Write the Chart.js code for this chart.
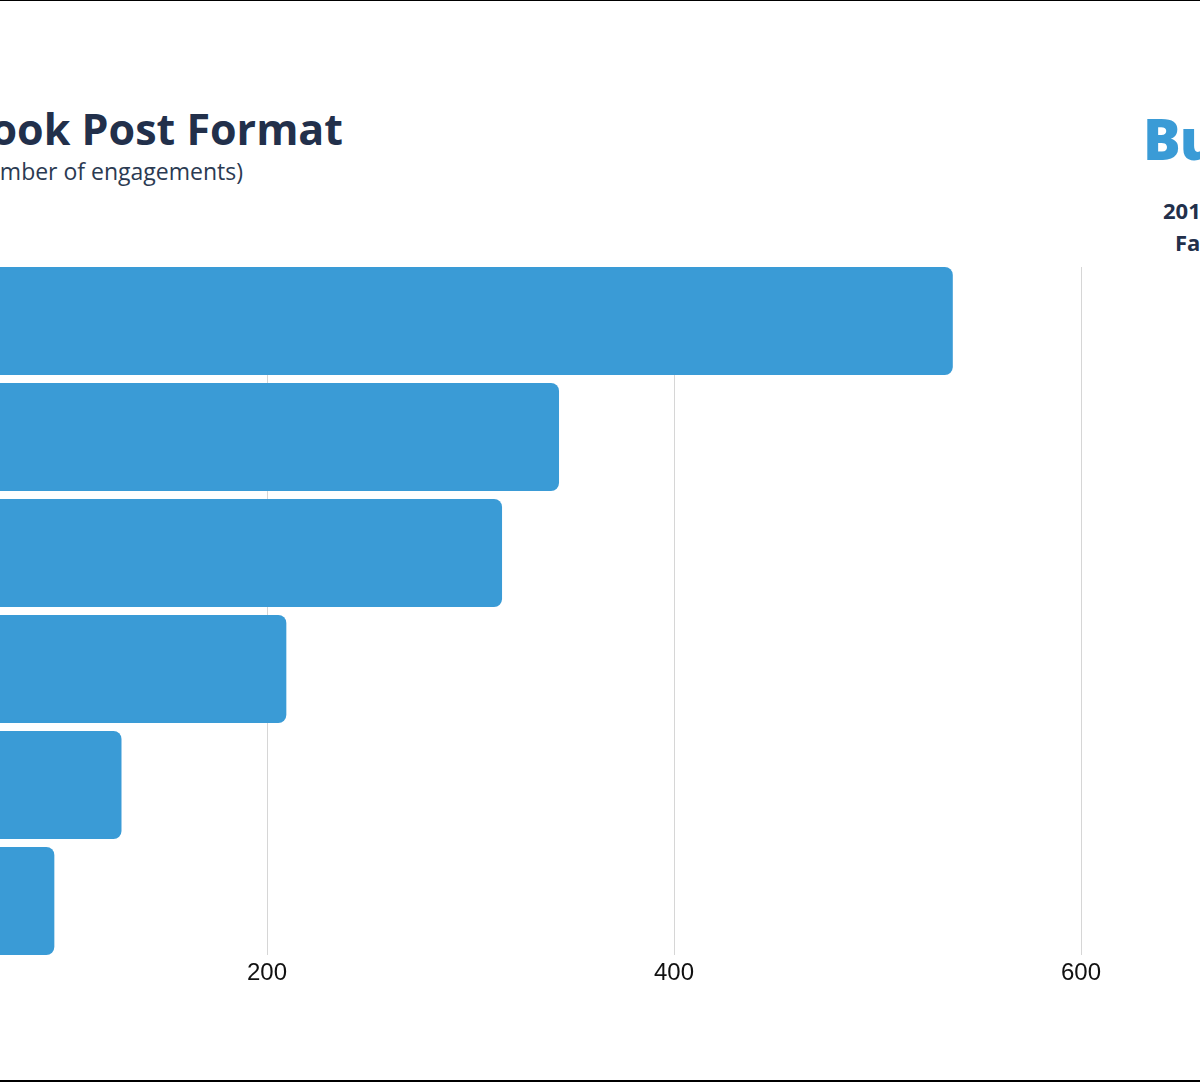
<!DOCTYPE html>
<html>
<head>
<meta charset="utf-8">
<script src="https://cdn.jsdelivr.net/npm/chart.js@4.4.1/dist/chart.umd.min.js"></script>
<style>
    html, body { margin: 0; padding: 0; background: #fff; }
    body { width: 1200px; height: 1082px; overflow: hidden; position: relative; }
    .rule-top { position: absolute; left: 0; top: 0; width: 1200px; height: 1px; background: #000; }
    .rule-bottom { position: absolute; left: 0; top: 1080px; width: 1200px; height: 2px; background: #000; }
    .title { position: absolute; right: 857px; top: 103px; white-space: nowrap; text-align: right;
        font-family: 'Open Sans', sans-serif; font-weight: 700; font-size: 43px; color: #22304b; line-height: 52px; }
    .subtitle { position: absolute; right: 957px; top: 156px; white-space: nowrap; text-align: right;
        font-family: 'Open Sans', sans-serif; font-size: 23px; color: #2b3a52; line-height: 30px; }
    .logo { position: absolute; left: 1143px; top: 102px; white-space: nowrap;
        font-family: 'Open Sans', sans-serif; font-weight: 800; font-size: 56px; color: #3a9bd6; line-height: 72px; letter-spacing: -1px; }
    .note { position: absolute; white-space: nowrap; font-family: 'Open Sans', sans-serif; font-weight: 700;
        font-size: 22px; color: #22304b; line-height: 30px; }
    #wrap { position: absolute; left: -440px; top: 0; width: 1760px; height: 1082px; }
</style>
</head>
<body>
<div class="rule-top"></div>
<div class="title">Average Engagement by Facebook Post Format</div>
<div class="subtitle">(Average number of engagements)</div>
<div class="logo">Buffer</div>
<div class="note" style="left:1163px; top:195px;">2019 Engagement Study</div>
<div class="note" style="left:1175px; top:227px;">Facebook Data</div>
<div id="wrap"><canvas id="chart" width="1760" height="1082"></canvas></div>
<div class="rule-bottom"></div>

<script>
// Post formats, top to bottom
const formats = ['Video', 'Photo', 'Link', 'Status', 'Event', 'Note'];
// Average engagements per post
const engagements = [537, 343.5, 315.5, 209.5, 128.5, 95.5];
const xTicks = [0, 200, 400, 600];

const BAR_BLUE = '#3a9bd6';

// Gridlines only run from the top of the first bar to the bottom of the last
const trimGrid = {
    id: 'trimGrid',
    beforeDatasetsDraw(chart) {
        const bars = chart.getDatasetMeta(0).data;
        if (!bars.length) return;
        const { ctx, chartArea } = chart;
        const first = bars[0], last = bars[bars.length - 1];
        const top = first.y - first.height / 2;
        const bottom = last.y + last.height / 2;
        ctx.save();
        ctx.fillStyle = '#fff';
        ctx.fillRect(chartArea.left, chartArea.top - 1, chartArea.width + 1, top - chartArea.top + 1);
        ctx.fillRect(chartArea.left, bottom, chartArea.width + 1, chartArea.bottom - bottom + 1);
        ctx.restore();
    },
};

const ctx = document.getElementById('chart').getContext('2d');

new Chart(ctx, {
    type: 'bar',
    data: {
        labels: formats,
        datasets: [{
            data: engagements,
            backgroundColor: BAR_BLUE,
            borderRadius: 8,
            borderSkipped: false,
            categoryPercentage: 0.931,
            barPercentage: 1,
        }],
    },
    options: {
        indexAxis: 'y',
        responsive: false,
        animation: false,
        layout: { padding: { top: 263, bottom: 83, left: 0, right: 35.5 } },
        plugins: {
            legend: { display: false },
            tooltip: { enabled: false },
        },
        scales: {
            x: {
                min: 0,
                max: 700,
                afterBuildTicks: (scale) => {
                    scale.ticks = xTicks.map(v => ({ value: v }));
                },
                afterFit: (scale) => { scale.height = 40; },
                grid: { color: '#d6d6d6', lineWidth: 1, drawTicks: false },
                border: { display: false },
                ticks: {
                    padding: 0,
                    color: '#111',
                    font: { family: "'Liberation Sans', Arial, sans-serif", size: 24 },
                },
            },
            y: {
                afterFit: (scale) => { scale.width = 300; },
                grid: { display: false },
                border: { display: false },
                ticks: {
                    color: '#22304b',
                    font: { family: "'Open Sans', sans-serif", size: 22 },
                },
            },
        },
    },
    plugins: [trimGrid],
});
</script>
</body>
</html>
